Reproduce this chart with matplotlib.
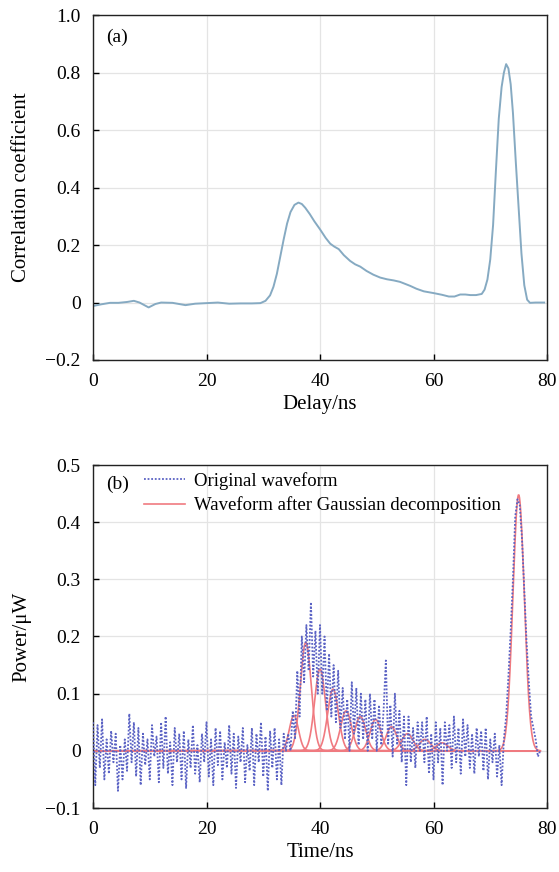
import numpy as np
import matplotlib
matplotlib.use("Agg")
import matplotlib.pyplot as plt

plt.rcParams['font.family'] = ['Liberation Serif', 'DejaVu Serif']

# ---------------- data (a) ----------------
delay_ns = [0, 1.5, 3, 4.5, 6, 7.2, 8.2, 9.8, 11, 12, 14, 16.3, 18, 20, 22, 24, 26, 28,
            29.5, 30.4, 31.2, 31.8, 32.4, 33, 33.6, 34.2, 34.8, 35.5, 36.2, 36.8, 37.4,
            38.2, 39, 40, 41, 41.8, 42.5, 43.3, 44.2, 45.3, 46.2, 47.1, 48.2, 49.4, 50.6,
            51.8, 53, 54.1, 55, 55.9, 57, 58.3, 60, 61.5, 62.7, 63.7, 64.7, 65.6, 66.5,
            67.5, 68.5, 69, 69.5, 70, 70.5, 71, 71.5, 72, 72.4, 72.8, 73.2, 73.6, 74,
            74.5, 75, 75.5, 76, 76.5, 77, 78, 79.5]
corr_coef = [-0.012, -0.006, -0.001, -0.001, 0.002, 0.006, 0.0, -0.017, -0.005, 0.0,
             -0.001, -0.009, -0.004, -0.002, 0.0, -0.004, -0.003, -0.003, -0.002, 0.006,
             0.025, 0.055, 0.1, 0.16, 0.22, 0.275, 0.315, 0.34, 0.348, 0.343, 0.33,
             0.308, 0.283, 0.255, 0.225, 0.205, 0.195, 0.186, 0.165, 0.145, 0.133, 0.125,
             0.11, 0.097, 0.087, 0.081, 0.077, 0.072, 0.065, 0.058, 0.048, 0.039, 0.033,
             0.027, 0.021, 0.021, 0.028, 0.028, 0.026, 0.026, 0.03, 0.045, 0.08, 0.15,
             0.27, 0.46, 0.64, 0.75, 0.80, 0.83, 0.815, 0.76, 0.66, 0.49, 0.33, 0.17,
             0.06, 0.01, -0.001, 0.0, 0.0]

# ---------------- data (b) ----------------
time_step = 0.4
original_waveform = [
    0.05, -0.06, 0.045, -0.03, 0.055, -0.05, 0.02, -0.04, 0.035, -0.02,
    0.03, -0.07, 0.01, -0.05, 0.02, -0.035, 0.065, -0.02, 0.05, -0.045,
    0.04, -0.06, 0.03, -0.025, 0.02, -0.05, 0.045, -0.01, 0.025, -0.055,
    0.05, -0.03, 0.06, -0.04, 0.015, -0.06, 0.04, -0.02, 0.03, -0.05,
    0.035, -0.065, 0.02, -0.03, 0.045, -0.04, 0.01, -0.055, 0.03, -0.02,
    0.05, -0.045, 0.02, -0.06, 0.04, -0.025, 0.035, -0.05, 0.015, -0.03,
    0.045, -0.04, 0.03, -0.065, 0.025, -0.02, 0.04, -0.055, 0.01, -0.035,
    0.04, -0.06, 0.03, -0.02, 0.05, -0.045, 0.025, -0.07, 0.035, -0.03,
    0.04, -0.05, 0.02, -0.06, 0.03, 0.0,
    0.03, 0.0, 0.07, 0.02, 0.14, 0.06, 0.20, 0.12, 0.22, 0.14,
    0.26, 0.13, 0.21, 0.10, 0.22, 0.10, 0.20, 0.07, 0.17, 0.06,
    0.15, 0.05, 0.14, 0.04, 0.11, 0.02, 0.09, 0.0, 0.12, 0.03,
    0.11, 0.01, 0.10, 0.02, 0.09, 0.0, 0.10, 0.02, 0.09, 0.0,
    0.08, 0.01, 0.07, 0.158, 0.01, 0.08, -0.01, 0.10, 0.01, 0.07,
    -0.02, 0.06, -0.06, 0.06, -0.02, 0.04, -0.03, 0.05, 0.0, 0.05,
    -0.02, 0.06, -0.04, 0.03, -0.05, 0.05, -0.02, 0.04, -0.06, 0.05,
    0.0, 0.045, -0.03, 0.06, -0.02, 0.04, -0.04, 0.055, -0.01, 0.045,
    -0.03, 0.03, -0.04, 0.04, -0.01, 0.035, -0.035, 0.04, -0.05, 0.02,
    -0.02, 0.03, -0.045, 0.01, -0.06, 0.02, 0.06, 0.13, 0.21, 0.30,
    0.41, 0.44, 0.43, 0.37, 0.28, 0.19, 0.12, 0.06, 0.04, 0.02,
    -0.01, 0.0]

gauss_centers = [35.4, 37.5, 40.0, 42.3, 44.6, 47.1, 49.8, 52.6, 55.4, 58.5, 61.5, 75.0]
gauss_amps = [0.062, 0.19, 0.143, 0.108, 0.07, 0.06, 0.055, 0.042, 0.03, 0.02, 0.014, 0.448]
gauss_sigmas = [0.8, 0.95, 0.95, 0.95, 0.95, 0.95, 0.95, 0.95, 1.0, 1.0, 1.0, 1.0]

x_ticks = [0, 20, 40, 60, 80]

# ---------------- figure ----------------
fig = plt.figure(figsize=(5.59, 8.72), dpi=100)
W, H = 559, 872
def rect(l, t, r, b):
    return [l / W, 1 - b / H, (r - l) / W, (b - t) / H]

ax1 = fig.add_axes(rect(93, 15.3, 547, 360))
ax2 = fig.add_axes(rect(93, 465, 547, 808))

grid_kw = dict(color='#e4e4e4', linewidth=0.9)
for ax in (ax1, ax2):
    ax.grid(True, **grid_kw)
    ax.set_axisbelow(True)
    ax.tick_params(direction='in', length=4, width=1, labelsize=14,
                   top=False, right=False, pad=9, colors='black')
    for s in ax.spines.values():
        s.set_linewidth(1.0)
        s.set_color('#222222')
    ax.set_xlim(0, 80)
    ax.set_xticks(x_ticks)

# (a)
ax1.plot(delay_ns, corr_coef, color='#86aac2', linewidth=1.4)
ax1.set_ylim(-0.2, 1.0)
ax1.set_yticks([-0.2, 0, 0.2, 0.4, 0.6, 0.8, 1.0])
ax1.set_yticklabels(['\u22120.2', '0', '0.2', '0.4', '0.6', '0.8', '1.0'])
ax1.set_xlabel('Delay/ns', fontsize=15, labelpad=4)
ax1.set_ylabel('Correlation coefficient', fontsize=15, labelpad=10)
ax1.text(0.029, 0.935, '(a)', transform=ax1.transAxes, fontsize=14, va='center', ha='left')

# (b)
t = np.arange(len(original_waveform)) * time_step
t_fine = np.linspace(0, t[-1], 800)
first = True
for c, a, s in zip(gauss_centers, gauss_amps, gauss_sigmas):
    g = a * np.exp(-(t_fine - c) ** 2 / (2 * s ** 2))
    ax2.plot(t_fine, g, color='#f07a80', linewidth=1.2,
             label='Waveform after Gaussian decomposition' if first else None, zorder=2)
    first = False
ax2.plot(t, original_waveform, color='#5a62c4', linewidth=1.3, linestyle=(0, (1, 1)),
         label='Original waveform', zorder=3)
ax2.set_ylim(-0.1, 0.5)
ax2.set_yticks([-0.1, 0, 0.1, 0.2, 0.3, 0.4, 0.5])
ax2.set_yticklabels(['\u22120.1', '0', '0.1', '0.2', '0.3', '0.4', '0.5'])
ax2.set_xlabel('Time/ns', fontsize=15, labelpad=4)
ax2.set_ylabel('Power/\u03bcW', fontsize=15, labelpad=10)
ax2.text(0.029, 0.945, '(b)', transform=ax2.transAxes, fontsize=14, va='center', ha='left')

h, l = ax2.get_legend_handles_labels()
order = [l.index('Original waveform'), l.index('Waveform after Gaussian decomposition')]
leg = ax2.legend([h[i] for i in order], [l[i] for i in order], loc='upper left',
                 bbox_to_anchor=(0.112, 0.98), frameon=False, fontsize=13.5,
                 handlelength=2.2, handletextpad=0.5, labelspacing=0.36,
                 borderpad=0, borderaxespad=0)

fig.savefig('out.png', dpi=100)
